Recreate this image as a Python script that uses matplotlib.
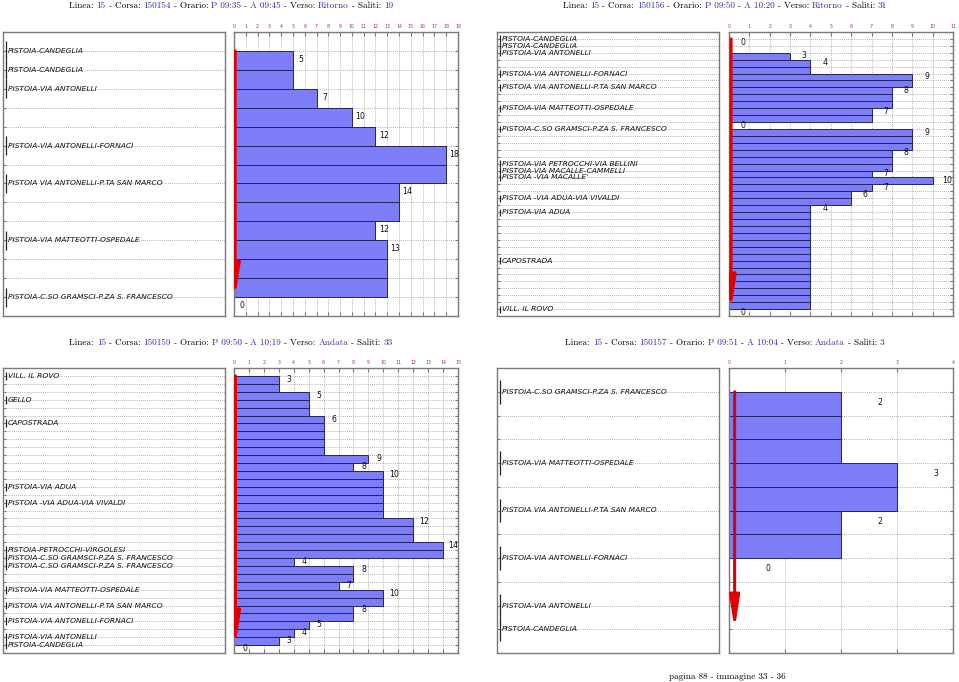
import matplotlib
matplotlib.use("Agg")
import matplotlib.pyplot as plt
from matplotlib.offsetbox import TextArea, HPacker, AnchoredOffsetbox
from matplotlib.patches import FancyArrowPatch

# ---------------- data ----------------
# panel 1 (top-left)
title1_linea = "15"
title1_corsa = "150154"
title1_partenza = "P 09:35"
title1_arrivo = "A 09:45"
title1_verso = "Ritorno"
title1_saliti = "19"
stops1 = ["PISTOIA-CANDEGLIA", "PISTOIA-CANDEGLIA", "PISTOIA-VIA ANTONELLI",
          "PISTOIA-VIA ANTONELLI-FORNACI", "PISTOIA VIA ANTONELLI-P.TA SAN MARCO",
          "PISTOIA-VIA MATTEOTTI-OSPEDALE", "PISTOIA-C.SO GRAMSCI-P.ZA S. FRANCESCO"]
stop_rows1 = [0, 1, 2, 5, 7, 10, 13]
loads1 = [5, 5, 7, 10, 12, 18, 18, 14, 14, 12, 13, 13, 13, 0]
xmax1 = 19

# panel 2 (top-right)
title2_linea = "15"
title2_corsa = "150156"
title2_partenza = "P 09:50"
title2_arrivo = "A 10:20"
title2_verso = "Ritorno"
title2_saliti = "31"
stops2 = ["PISTOIA-CANDEGLIA", "PISTOIA-CANDEGLIA", "PISTOIA-VIA ANTONELLI",
          "PISTOIA-VIA ANTONELLI-FORNACI", "PISTOIA VIA ANTONELLI-P.TA SAN MARCO",
          "PISTOIA-VIA MATTEOTTI-OSPEDALE", "PISTOIA-C.SO GRAMSCI-P.ZA S. FRANCESCO",
          "PISTOIA-VIA PETROCCHI-VIA BELLINI", "PISTOIA-VIA MACALLE-CAMMELLI",
          "PISTOIA -VIA MACALLE'", "PISTOIA -VIA ADUA-VIA VIVALDI", "PISTOIA-VIA ADUA",
          "CAPOSTRADA", "VILL. IL ROVO"]
stop_rows2 = [0, 1, 2, 5, 7, 10, 13, 18, 19, 20, 23, 25, 32, 39]
loads2 = [0, 0, 3, 4, 4, 9, 9, 8, 8, 8, 7, 7, 0, 9, 9, 9, 8, 8, 8, 7, 10, 7, 6, 6,
          4, 4, 4, 4, 4, 4, 4, 4, 4, 4, 4, 4, 4, 4, 4, 0]
xmax2 = 11

# panel 3 (bottom-left)
title3_linea = "15"
title3_corsa = "150159"
title3_partenza = "P 09:50"
title3_arrivo = "A 10:19"
title3_verso = "Andata"
title3_saliti = "33"
stops3 = ["VILL. IL ROVO", "GELLO", "CAPOSTRADA", "PISTOIA-VIA ADUA",
          "PISTOIA -VIA ADUA-VIA VIVALDI", "PISTOIA-PETROCCHI-VIRGOLESI",
          "PISTOIA-C.SO GRAMSCI-P.ZA S. FRANCESCO", "PISTOIA-C.SO GRAMSCI-P.ZA S. FRANCESCO",
          "PISTOIA-VIA MATTEOTTI-OSPEDALE", "PISTOIA VIA ANTONELLI-P.TA SAN MARCO",
          "PISTOIA-VIA ANTONELLI-FORNACI", "PISTOIA-VIA ANTONELLI", "PISTOIA-CANDEGLIA"]
stop_rows3 = [0, 3, 6, 14, 16, 22, 23, 24, 27, 29, 31, 33, 34]
loads3 = [3, 3, 5, 5, 5, 6, 6, 6, 6, 6, 9, 8, 10, 10, 10, 10, 10, 10, 12, 12, 12,
          14, 14, 4, 8, 8, 7, 10, 10, 8, 8, 5, 4, 3, 0]
xmax3 = 15

# panel 4 (bottom-right)
title4_linea = "15"
title4_corsa = "150157"
title4_partenza = "P 09:51"
title4_arrivo = "A 10:04"
title4_verso = "Andata"
title4_saliti = "3"
stops4 = ["PISTOIA-C.SO GRAMSCI-P.ZA S. FRANCESCO", "PISTOIA-VIA MATTEOTTI-OSPEDALE",
          "PISTOIA VIA ANTONELLI-P.TA SAN MARCO", "PISTOIA-VIA ANTONELLI-FORNACI",
          "PISTOIA-VIA ANTONELLI", "PISTOIA-CANDEGLIA"]
stop_rows4 = [0, 3, 5, 7, 9, 10]
loads4 = [2, 2, 2, 3, 3, 2, 2, 0, 0, 0, 0]
xmax4 = 4

footer_text = "pagina 88 - immagine 33 - 36"

# ---------------- style ----------------
W, H = 959, 682
fig = plt.figure(figsize=(W / 100, H / 100), dpi=100)
BLUE_T = "#2b2bb0"
SERIF = "cmr10"
GRID = dict(color="#9a9a9a", linestyle=(0, (1, 1.5)), linewidth=0.6)
SPINE = "#7a7a7a"


def px_axes(x0, y0, x1, y1):
    return fig.add_axes([x0 / W, (H - y1) / H, (x1 - x0) / W, (y1 - y0) / H])


def add_title(cx, cy, linea, corsa, part, arr, verso, saliti):
    parts = [("Linea: ", "black"), (linea, BLUE_T), (" - Corsa: ", "black"),
             (corsa, BLUE_T), (" - Orario: ", "black"), (part, BLUE_T),
             (" - ", "black"), (arr, BLUE_T), (" - Verso: ", "black"),
             (verso, BLUE_T), (" - Saliti: ", "black"), (saliti, BLUE_T)]
    areas = [TextArea(t, textprops=dict(color=c, fontsize=6.6, family=SERIF))
             for t, c in parts]
    box = HPacker(children=areas, align="baseline", pad=0, sep=0)
    anch = AnchoredOffsetbox(loc="center", child=box, pad=0, borderpad=0,
                             frameon=False, bbox_to_anchor=(cx / W, 1 - cy / H),
                             bbox_transform=fig.transFigure)
    fig.add_artist(anch)


def panel(lx0, rx0, y0, y1, stops, stop_rows, loads, xmax):
    n = len(loads)
    axl = px_axes(lx0, y0, lx0 + 222, y1)
    axr = px_axes(rx0, y0, rx0 + 224, y1)
    for ax in (axl, axr):
        ax.set_ylim(n, -1)
        for s in ax.spines.values():
            s.set_color(SPINE)
            s.set_linewidth(1.0)
        ax.set_axisbelow(True)
        ax.set_yticks(range(n))
        ax.yaxis.grid(True, **GRID)
        ax.set_yticklabels([])
    # ---- left axes: stop names
    axl.set_xlim(0, 1)
    axl.set_xticks([])
    axl.tick_params(axis="y", direction="in", length=2, color=SPINE)
    for name, r in zip(stops, stop_rows):
        axl.plot([0.012, 0.012], [r - 0.5, r + 0.5], color="#222222", lw=0.9,
                 solid_capstyle="butt")
        axl.text(0.022, r, name, fontsize=5.4, style="italic", ha="left",
                 va="center", color="#111111")
    # ---- right axes: loads
    axr.set_xlim(0, xmax)
    axr.set_xticks(range(xmax + 1))
    axr.xaxis.tick_top()
    axr.xaxis.grid(True, **GRID)
    axr.tick_params(axis="x", which="both", top=True, bottom=True, direction="in",
                    length=3, labelsize=3.4, labelcolor="#b03a3a", pad=2, color=SPINE)
    axr.tick_params(axis="y", direction="in", length=2, left=True, right=True,
                    color=SPINE)
    rows = [i + 0.5 for i in range(n)]
    axr.barh(rows, loads, height=1.0, left=0, color="#7d7df8",
             edgecolor="#23236a", linewidth=0.7, zorder=2)
    prev = None
    for i, v in enumerate(loads):
        if v != prev:
            axr.text(v + 0.7, i + 0.45, str(v), fontsize=5.6, ha="center",
                     va="center", color="#111111", zorder=4)
        prev = v
    arrow = FancyArrowPatch((0.1, stop_rows[0]), (0.1, stop_rows[-1]),
                            arrowstyle="-|>,head_length=1.9,head_width=0.3",
                            mutation_scale=10, color="#e00000", lw=2.2,
                            shrinkA=0, shrinkB=0, zorder=5)
    axr.add_patch(arrow)


panel(3, 234, 32, 316, stops1, stop_rows1, loads1, xmax1)
panel(497, 729, 32, 316, stops2, stop_rows2, loads2, xmax2)
panel(3, 234, 368, 653, stops3, stop_rows3, loads3, xmax3)
panel(497, 729, 368, 653, stops4, stop_rows4, loads4, xmax4)

add_title(231, 6, title1_linea, title1_corsa, title1_partenza, title1_arrivo,
          title1_verso, title1_saliti)
add_title(725, 6, title2_linea, title2_corsa, title2_partenza, title2_arrivo,
          title2_verso, title2_saliti)
add_title(231, 343, title3_linea, title3_corsa, title3_partenza, title3_arrivo,
          title3_verso, title3_saliti)
add_title(725, 343, title4_linea, title4_corsa, title4_partenza, title4_arrivo,
          title4_verso, title4_saliti)

fig.text(727 / W, 1 - 677 / H, footer_text, fontsize=6.6, family=SERIF,
         ha="center", va="center")

fig.savefig("out.png", dpi=100)
